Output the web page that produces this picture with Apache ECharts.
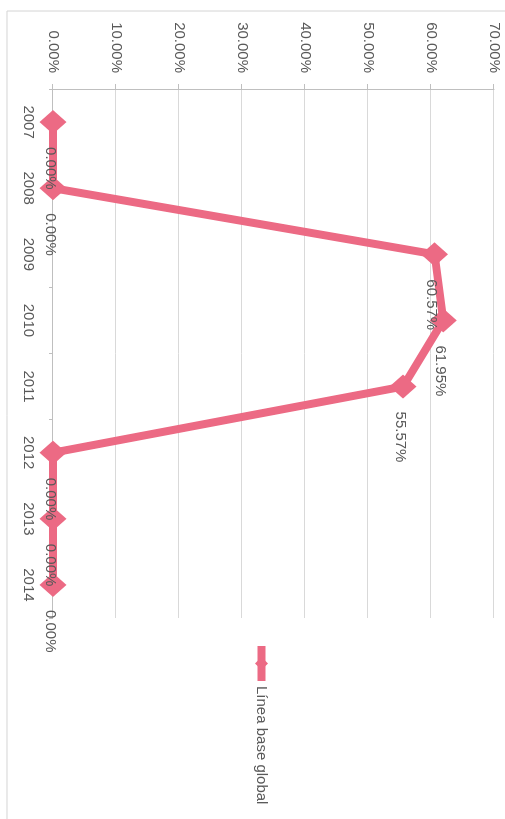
<!DOCTYPE html>
<html>
<head>
<meta charset="utf-8">
<script src="https://cdn.jsdelivr.net/npm/echarts@6/dist/echarts.min.js"></script>
<style>
  html, body { margin: 0; padding: 0; background: #ffffff; width: 505px; height: 819px; overflow: hidden; }
  #chart {
    position: absolute; left: 0; top: 0;
    width: 819px; height: 505px;
    transform-origin: 0 0;
    transform: translate(505px, 0) rotate(90deg);
  }
</style>
</head>
<body>
<div id="chart"></div>
<script>
// Data
const categories = ['2007', '2008', '2009', '2010', '2011', '2012', '2013', '2014'];
const seriesName = 'Línea base global';
const values = [0, 0, 60.57, 61.95, 55.57, 0, 0, 0];   // percent
const valueMin = 0, valueMax = 70, valueStep = 10;

const FONT = '"Liberation Sans", Arial, sans-serif';
const LINE_COLOR = '#EC6A84';

const chart = echarts.init(document.getElementById('chart'), null, { renderer: 'canvas' });
chart.setOption({
  animation: false,
  backgroundColor: '#ffffff',
  textStyle: { fontFamily: FONT },
  graphic: [{
    type: 'rect',
    shape: { x: 11, y: -5, width: 830, height: 503 },
    style: { fill: 'none', stroke: '#d4d4d4', lineWidth: 1 },
    silent: true
  }],
  grid: { left: 89, right: 201, top: 11, bottom: 53, containLabel: false },
  legend: {
    orient: 'vertical',
    left: 637,
    top: 231,
    itemWidth: 35,
    itemHeight: 16,
    itemGap: 5,
    lineStyle: { width: 8 },
    textStyle: { fontFamily: FONT, fontSize: 15, color: '#595959' },
    data: [seriesName]
  },
  xAxis: {
    type: 'category',
    data: categories,
    boundaryGap: true,
    axisLine: { show: true, lineStyle: { color: '#bfbfbf', width: 1 } },
    axisTick: { show: true, length: 4, lineStyle: { color: '#bfbfbf' } },
    axisLabel: { margin: 17, fontFamily: FONT, fontSize: 15, color: '#595959' },
    splitLine: { show: false }
  },
  yAxis: {
    type: 'value',
    min: valueMin, max: valueMax, interval: valueStep,
    axisLine: { show: true, lineStyle: { color: '#bfbfbf', width: 1 } },
    axisTick: { show: true, length: 5, lineStyle: { color: '#bfbfbf' } },
    axisLabel: {
      margin: 16, fontFamily: FONT, fontSize: 15, color: '#595959',
      formatter: v => v.toFixed(2) + '%'
    },
    splitLine: { show: true, lineStyle: { color: '#d9d9d9', width: 1 } }
  },
  series: [{
    name: seriesName,
    type: 'line',
    data: values,
    symbol: 'diamond',
    symbolSize: [24, 27],
    lineStyle: { color: LINE_COLOR, width: 8 },
    itemStyle: { color: LINE_COLOR },
    label: {
      show: true,
      position: 'right',
      distance: 13,
      offset: [0, 3],
      fontFamily: FONT,
      fontSize: 15,
      color: '#595959',
      formatter: p => p.value.toFixed(2) + '%'
    }
  }]
});
</script>
</body>
</html>
